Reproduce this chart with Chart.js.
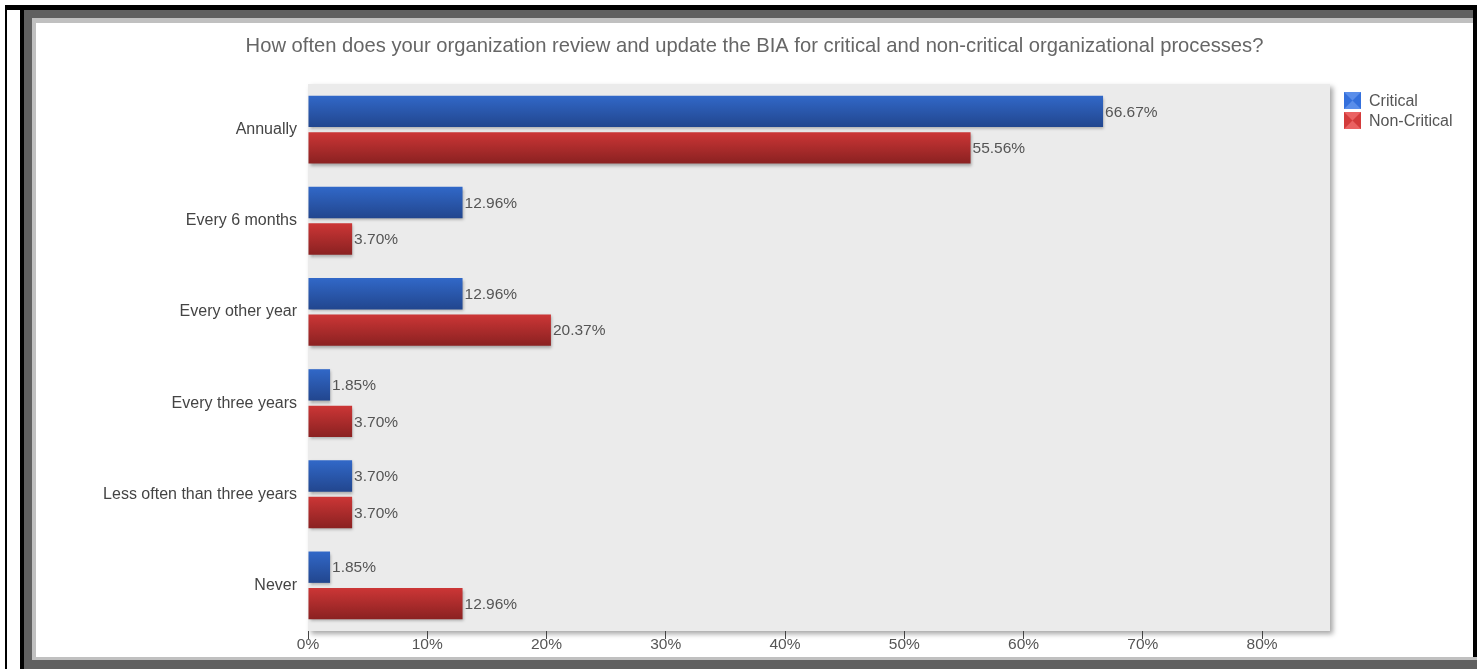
<!DOCTYPE html>
<html>
<head>
<meta charset="utf-8">
<title>BIA review frequency</title>
<script src="https://cdn.jsdelivr.net/npm/chart.js@4"></script>
<style>
    html, body { margin: 0; padding: 0; background: #fff; }
    body { width: 1481px; height: 669px; position: relative; overflow: hidden; }
    .r { position: absolute; }
    #chartBox { position: absolute; left: 36px; top: 23px; width: 1437px; height: 634px; }
</style>
</head>
<body>
<!-- frame around the chart -->
<div class="r" style="left:5px;top:5px;width:2px;height:664px;background:#000"></div>
<div class="r" style="left:5px;top:5px;width:1472px;height:5px;background:#000"></div>
<div class="r" style="left:20px;top:10px;width:4px;height:659px;background:#000"></div>
<div class="r" style="left:1473px;top:5px;width:4px;height:652px;background:#000"></div>
<div class="r" style="left:24px;top:10px;width:1449px;height:8px;background:#606060"></div>
<div class="r" style="left:24px;top:18px;width:8px;height:651px;background:#606060"></div>
<div class="r" style="left:24px;top:660px;width:1453px;height:9px;background:#606060"></div>
<div class="r" style="left:32px;top:18px;width:1441px;height:5px;background:#c0c0c0"></div>
<div class="r" style="left:32px;top:23px;width:4px;height:637px;background:#c0c0c0"></div>
<div class="r" style="left:36px;top:657px;width:1441px;height:3px;background:#c0c0c0"></div>

<div id="chartBox"><canvas id="biaChart"></canvas></div>

<script>
// Data
const categories = [
    "Annually",
    "Every 6 months",
    "Every other year",
    "Every three years",
    "Less often than three years",
    "Never",
];
const critical = [66.67, 12.96, 12.96, 1.85, 3.70, 1.85];
const nonCritical = [55.56, 3.70, 20.37, 3.70, 3.70, 12.96];
const seriesNames = ["Critical", "Non-Critical"];
const xTicks = [0, 10, 20, 30, 40, 50, 60, 70, 80];
const xMax = 85.7;

const FONT = "'Liberation Sans', Arial, sans-serif";

// top/bottom colours of the bar gradients, and legend swatch colours
const barShades = [
    ["#3168c8", "#22468e"],
    ["#cc3636", "#8a2121"],
];
const swatchShades = [
    ["#5a8eea", "#3470dc"],
    ["#ea6262", "#d33b3b"],
];

const chartLook = {
    id: "chartLook",
    beforeDraw(chart) {
        const { ctx, chartArea: a } = chart;
        ctx.save();
        ctx.shadowColor = "rgba(0,0,0,0.35)";
        ctx.shadowBlur = 5;
        ctx.shadowOffsetX = 3;
        ctx.shadowOffsetY = 3;
        ctx.fillStyle = "#ebebeb";
        ctx.fillRect(a.left, a.top, a.right - a.left, a.bottom - a.top);
        ctx.restore();
    },
    beforeDatasetsDraw(chart) {
        const ctx = chart.ctx;
        chart.data.datasets.forEach((ds, i) => {
            chart.getDatasetMeta(i).data.forEach((el) => {
                const p = el.getProps(["y", "height"], true);
                const g = ctx.createLinearGradient(0, p.y - p.height / 2, 0, p.y + p.height / 2);
                g.addColorStop(0, barShades[i][0]);
                g.addColorStop(1, barShades[i][1]);
                el.options.backgroundColor = g;
            });
        });
        ctx.save();
        ctx.shadowColor = "rgba(0,0,0,0.3)";
        ctx.shadowBlur = 3;
        ctx.shadowOffsetX = 1;
        ctx.shadowOffsetY = 2;
    },
    afterDatasetsDraw(chart) {
        const ctx = chart.ctx;
        ctx.restore();
        ctx.save();
        ctx.font = "15.5px " + FONT;
        ctx.fillStyle = "#555";
        ctx.textBaseline = "middle";
        ctx.textAlign = "left";
        chart.data.datasets.forEach((ds, i) => {
            chart.getDatasetMeta(i).data.forEach((el, j) => {
                const p = el.getProps(["x", "y"], true);
                ctx.fillText(ds.data[j].toFixed(2) + "%", p.x + 2, p.y + 1);
            });
        });
        ctx.restore();
    },
    afterDraw(chart) {
        // legend to the right of the plot
        const ctx = chart.ctx;
        const x0 = chart.chartArea.right + 14;
        const y0 = 69;
        const s = 17;
        ctx.save();
        ctx.font = "16px " + FONT;
        ctx.textBaseline = "middle";
        chart.data.datasets.forEach((ds, i) => {
            const y = y0 + i * 20;
            ctx.fillStyle = swatchShades[i][0];
            ctx.fillRect(x0, y, s, s);
            ctx.fillStyle = swatchShades[i][1];
            ctx.beginPath();
            ctx.moveTo(x0, y);
            ctx.lineTo(x0 + s / 2, y + s / 2);
            ctx.lineTo(x0, y + s);
            ctx.closePath();
            ctx.moveTo(x0 + s, y);
            ctx.lineTo(x0 + s / 2, y + s / 2);
            ctx.lineTo(x0 + s, y + s);
            ctx.closePath();
            ctx.fill();
            ctx.fillStyle = "#555";
            ctx.fillText(ds.label, x0 + 25, y + s / 2 + 1);
        });
        ctx.restore();
    },
};

new Chart(document.getElementById("biaChart"), {
    type: "bar",
    data: {
        labels: categories,
        datasets: [
            // scriptable colour so every bar keeps its own options object
            { label: seriesNames[0], data: critical, backgroundColor: () => barShades[0][0] },
            { label: seriesNames[1], data: nonCritical, backgroundColor: () => barShades[1][0] },
        ],
    },
    options: {
        indexAxis: "y",
        responsive: true,
        maintainAspectRatio: false,
        animation: false,
        events: [],
        categoryPercentage: 0.8,
        barPercentage: 0.86,
        layout: { padding: 0 },
        plugins: {
            legend: { display: false },
            tooltip: { enabled: false },
            title: {
                display: true,
                text: "How often does your organization review and update the BIA for critical and non-critical organizational processes?",
                color: "#666",
                font: { family: FONT, size: 20.2, weight: "normal" },
                padding: { top: 10.9, bottom: 25.9 },
            },
        },
        scales: {
            x: {
                min: 0,
                max: xMax,
                afterBuildTicks(scale) {
                    scale.ticks = xTicks.map((v) => ({ value: v }));
                },
                afterFit(scale) {
                    scale.height = 26;
                },
                border: { display: false },
                grid: { drawOnChartArea: false, drawTicks: true, tickLength: 8, color: "#444" },
                ticks: {
                    color: "#555",
                    padding: -4,
                    font: { family: FONT, size: 15.5 },
                    callback: (v) => v + "%",
                },
            },
            y: {
                afterFit(scale) {
                    scale.width = 272;
                },
                border: { display: false },
                grid: { display: false, drawTicks: false },
                ticks: {
                    color: "#444",
                    padding: 11,
                    font: { family: FONT, size: 16 },
                },
            },
            // empty axis on the right that leaves room for the legend
            legendSpace: {
                type: "category",
                position: "right",
                afterFit(scale) {
                    scale.width = 143;
                },
                border: { display: false },
                grid: { display: false, drawTicks: false },
                ticks: { display: false },
            },
        },
    },
    plugins: [chartLook],
});
</script>
</body>
</html>
